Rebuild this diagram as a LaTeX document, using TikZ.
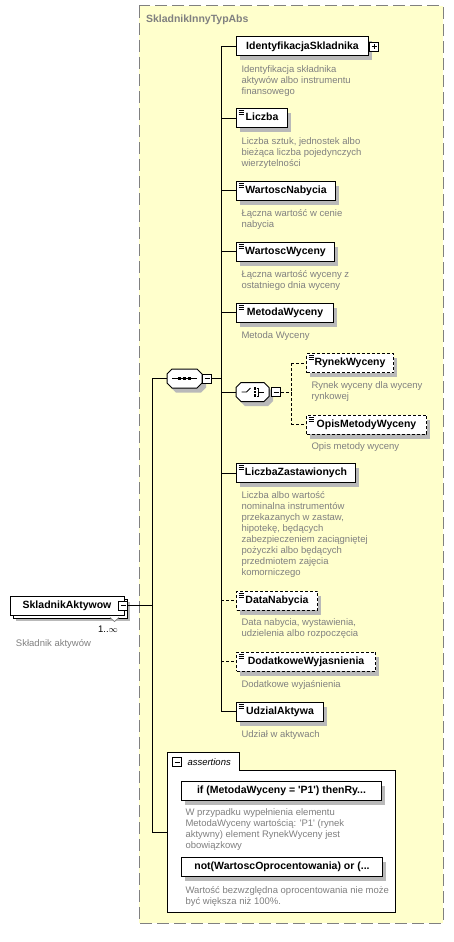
\documentclass[tikz,border=0pt]{standalone}
\usepackage{fontspec}
\setmainfont{Liberation Sans}
\definecolor{typeyellow}{RGB}{255,255,204}
\definecolor{descgray}{RGB}{128,128,128}
\definecolor{shadowgray}{RGB}{185,185,185}
\newcommand\namefont{\fontsize{10.5}{12}\selectfont\bfseries}
\newcommand\descfont{\fontsize{9.5}{11}\selectfont}
\newcommand\octpath[4][]{\draw[#1] (#2.center) ++(#4) ++(-#3+5,-9.5) -- ++(2*#3-10,0) -- ++(5,5) -- ++(0,9)
  -- ++(-5,5) -- ++(-2*#3+10,0) -- ++(-5,-5) -- ++(0,-9) -- cycle;}
\begin{document}
\begin{tikzpicture}[x=1pt,y=-1pt,line width=1pt,
  elem/.style={draw,fill=white,font=\namefont,anchor=west,inner xsep=7pt,inner ysep=0pt,
    minimum height=19pt,text height=7.6pt,text depth=2.2pt},
  optelem/.style={elem,dash pattern=on 3pt off 2pt},
  docd/.style={path picture={\foreach \k in {2,4,6}
      \draw[black,line width=0.7pt,solid] ([shift={(2pt,-\k pt)}]path picture bounding box.north west) -- ++(5pt,0pt);}},
  rootelem/.style={draw,fill=white,font=\namefont,inner sep=0pt,minimum width=114pt,
    minimum height=19pt,text height=7.6pt,text depth=2.2pt},
  octbox/.style={inner sep=0pt,minimum height=19pt},
  icon/.style={line width=0.8pt},
  shadowfill/.style={draw=none,fill=shadowgray},
  pmbox/.style={draw,fill=white,line width=0.8pt,minimum size=9pt,inner sep=0pt},
  minusbox/.style={pmbox,path picture={\draw[black,line width=0.8pt] ([xshift=2pt]path picture bounding box.west) -- ([xshift=-2pt]path picture bounding box.east);}},
  plusbox/.style={pmbox,path picture={\draw[black,line width=0.8pt] ([xshift=2pt]path picture bounding box.west) -- ([xshift=-2pt]path picture bounding box.east)
      ([yshift=-2pt]path picture bounding box.north) -- ([yshift=2pt]path picture bounding box.south);}},
  desc/.style={anchor=north west,inner sep=0pt,align=left,font=\descfont,text=descgray},
  optline/.style={dash pattern=on 3pt off 2pt},
  typebox/.style={draw=descgray,fill=typeyellow,dash pattern=on 12pt off 5pt}]
\useasboundingbox (0,0) rectangle (454,942);

\draw[typebox] (139,6) rectangle (443,923);
\node[anchor=north west,inner sep=0pt,font=\namefont,text=descgray] (ttl) at (145.5,14) {SkladnikInnyTypAbs};

\foreach \x/\y/\w in {236/46.5/132,236/118/51,236/190.5/99,236/251.5/98,236/312.5/97,306/363/87,306/424.5/120,
    236/473/119,236/600.5/81,236/661.5/139,236/711.5/87}
  \path[shadowfill] (\x+4,\y-5) rectangle (\x+\w+4,\y+14);

\path[shadowfill] (16,602) rectangle (130,621);
\draw[fill=white] (13,599) rectangle (127,618);
\node[rootelem] (root) at (67,605.5) {SkladnikAktywow};
\node[minusbox] (rootpm) at (123,605.5) {};
\draw[draw=descgray,fill=white,line width=0.7pt] (110,617.5) -- (114.5,621.5) -- (119,617.5);
\node[font=\descfont,inner sep=0pt] (mult) at (108,629) {1..$\infty$};
\node[desc] (rootd) at (15.5,639) {Składnik aktywów};

\node[octbox,minimum width=35pt] (seq) at (184.5,378.5) {};
\octpath[shadowfill]{seq}{17.5}{4,4.5}
\octpath[fill=white]{seq}{17.5}{0,0}
\draw[icon] ([xshift=-12.5pt]seq.center) -- ([xshift=12.5pt]seq.center);
\foreach \k in {-5,0,5}
  \fill ([xshift=\k pt]seq.center) +(-1.5,-1.5) rectangle +(1.5,1.5);
\node[minusbox] (seqpm) at (207,378.5) {};

\node[elem,minimum width=132pt] (ident) at (236,46.5) {IdentyfikacjaSkladnika};
\node[plusbox] (identpm) at ([xshift=5pt]ident.east) {};
\node[desc] (identd) at (241,65) {Identyfikacja składnika\\aktywów albo instrumentu\\finansowego};

\node[elem,docd,minimum width=51pt] (liczba) at (236,118) {Liczba};
\node[desc] (liczbad) at (241,137) {Liczba sztuk, jednostek albo\\bieżąca liczba pojedynczych\\wierzytelności};

\node[elem,docd,minimum width=99pt] (wnab) at (236,190.5) {WartoscNabycia};
\node[desc] (wnabd) at (241,209) {Łączna wartość w cenie\\nabycia};

\node[elem,docd,minimum width=98pt] (wwyc) at (236,251.5) {WartoscWyceny};
\node[desc] (wwycd) at (241,270) {Łączna wartość wyceny z\\ostatniego dnia wyceny};

\node[elem,docd,minimum width=97pt] (metoda) at (236,312.5) {MetodaWyceny};
\node[desc] (metodad) at (241,331) {Metoda Wyceny};

\node[octbox,minimum width=33pt] (chc) at (252.5,392) {};
\octpath[shadowfill]{chc}{16.5}{4,4.5}
\octpath[fill=white]{chc}{16.5}{0,0}
\draw[icon] ([xshift=-11pt]chc.center) -- ([xshift=-6pt]chc.center) -- ([shift={(-2pt,4pt)}]chc.center);
\foreach \k in {-3.5,0,3.5}
  \fill ([shift={(2.5pt,\k pt)}]chc.center) +(-1.2,-1.2) rectangle +(1.2,1.2);
\draw[icon] ([shift={(4pt,4pt)}]chc.center) -- ([shift={(6pt,4pt)}]chc.center) -- ([shift={(6pt,-4pt)}]chc.center)
  -- ([shift={(4pt,-4pt)}]chc.center) ([xshift=6pt]chc.center) -- ([xshift=11pt]chc.center);
\node[minusbox] (chcpm) at (276,392) {};

\node[optelem,docd,minimum width=87pt] (rynek) at (306,363) {RynekWyceny};
\node[desc] (rynekd) at (311,381) {Rynek wyceny dla wyceny\\rynkowej};

\node[optelem,docd,minimum width=120pt] (opis) at (306,424.5) {OpisMetodyWyceny};
\node[desc] (opisd) at (311,442) {Opis metody wyceny};

\node[elem,docd,minimum width=119pt] (lzast) at (236,473) {LiczbaZastawionych};
\node[desc] (lzastd) at (241,491) {Liczba albo wartość\\nominalna instrumentów\\przekazanych w zastaw,\\hipotekę, będących\\zabezpieczeniem zaciągniętej\\pożyczki albo będących\\przedmiotem zajęcia\\komorniczego};

\node[optelem,docd,minimum width=81pt] (datan) at (236,600.5) {DataNabycia};
\node[desc] (datand) at (241,618) {Data nabycia, wystawienia,\\udzielenia albo rozpoczęcia};

\node[optelem,docd,minimum width=139pt] (dodwyj) at (236,661.5) {DodatkoweWyjasnienia};
\node[desc] (dodwyjd) at (241,680) {Dodatkowe wyjaśnienia};

\node[elem,docd,minimum width=87pt] (udzial) at (236,711.5) {UdzialAktywa};
\node[desc] (udziald) at (241,730) {Udział w aktywach};

\draw[fill=white] (167,912) -- (167,752) -- (239,752) -- (239,770) -- (395,770) -- (395,912) -- cycle;
\node[minusbox] (asrtpm) at (177,762) {};
\node[anchor=west,inner sep=0pt,font=\descfont\itshape] (asrtl) at (187,762) {assertions};
\coordinate (asrtin) at (167,832);
\foreach \y/\w in {790.5/200,867/201}
  \path[shadowfill] (185,\y-5) rectangle (181+\w+4,\y+14);
\node[elem,minimum width=200pt] (asrt1) at (181,790.5) {if (MetodaWyceny = \textquotesingle P1\textquotesingle) thenRy...};
\node[desc] (asrt1d) at (185,808) {W przypadku wypełnienia elementu\\MetodaWyceny wartością: \textquotesingle P1\textquotesingle{} (rynek\\aktywny) element RynekWyceny jest\\obowiązkowy};
\node[elem,minimum width=201pt] (asrt2) at (181,867) {not(WartoscOprocentowania) or (...};
\node[desc] (asrt2d) at (185,886) {Wartość bezwzględna oprocentowania nie może\\być większa niż 100\%.};

\coordinate (lbus) at (152,0);
\coordinate (bus) at (221,0);
\coordinate (cbus) at (291,0);

\draw (rootpm.east) -- (rootpm.east -| lbus);
\draw (seq.west) -- (seq.west -| lbus) |- (asrtin);
\draw (seqpm.east) -- (seqpm.east -| bus);
\draw (ident.west -| bus) -- (udzial.west -| bus);
\foreach \n in {ident,liczba,wnab,wwyc,metoda,chc,lzast,udzial}
  \draw (\n.west -| bus) -- (\n.west);
\foreach \n in {datan,dodwyj}
  \draw[optline] (\n.west -| bus) -- (\n.west);
\draw[optline] (chcpm.east) -- (chcpm.east -| cbus);
\draw[optline] (rynek.west -| cbus) -- (opis.west -| cbus);
\foreach \n in {rynek,opis}
  \draw[optline] (\n.west -| cbus) -- (\n.west);
\end{tikzpicture}
\end{document}
